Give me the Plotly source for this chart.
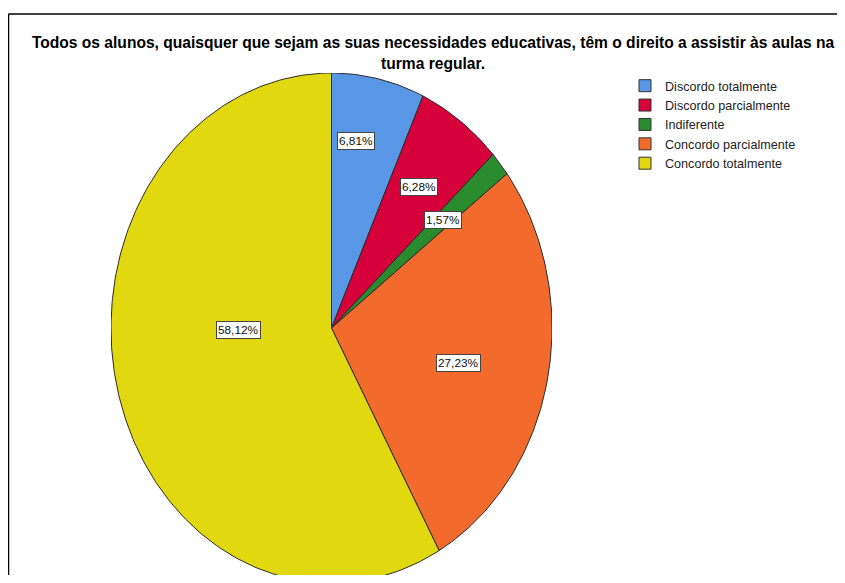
import numpy as np
import plotly.graph_objects as go

categorias = ["Discordo totalmente", "Discordo parcialmente", "Indiferente",
              "Concordo parcialmente", "Concordo totalmente"]
percentagens = [6.81, 6.28, 1.57, 27.23, 58.12]
rotulos = ["6,81%", "6,28%", "1,57%", "27,23%", "58,12%"]

cores = ["#5896E6", "#D6003A", "#2A8A2E", "#F26A2C", "#E1D80F"]
titulo = ("Todos os alunos, quaisquer que sejam as suas necessidades educativas, "
          "têm o direito a assistir às aulas na<br>turma regular.")

# posição dos rótulos (raio relativo e desvio angular em graus), estilo SPSS
raio_rotulo = [0.74, 0.68, 0.66, 0.59, 0.42]
desvio_rotulo = [-3.8, 0.0, 0.0, 1.7, 13.4]

fig = go.Figure()

total = sum(percentagens)
inicio = 0.0
for i, (cat, val) in enumerate(zip(categorias, percentagens)):
    a0 = inicio / total * 2 * np.pi
    a1 = (inicio + val) / total * 2 * np.pi
    t = np.linspace(a0, a1, max(int(val * 4), 8))
    xs = np.concatenate([[0], np.sin(t), [0]])
    ys = np.concatenate([[0], np.cos(t), [0]])
    fig.add_trace(go.Scatter(
        x=xs, y=ys, mode="lines", fill="toself",
        fillcolor=cores[i], line=dict(color="#2b2b2b", width=1),
        showlegend=False, legendgroup=cat, hoverinfo="skip",
    ))
    # rótulo no meio da fatia
    meio = (a0 + a1) / 2 + np.radians(desvio_rotulo[i])
    fig.add_annotation(
        x=raio_rotulo[i] * np.sin(meio), y=raio_rotulo[i] * np.cos(meio),
        text=rotulos[i], showarrow=False,
        font=dict(family="Liberation Sans", size=11.8, color="#111111"),
        bgcolor="white", bordercolor="#444444", borderwidth=1, borderpad=1,
    )
    inicio += val

# entradas da legenda (quadrados)
for i, cat in enumerate(categorias):
    fig.add_trace(go.Scatter(
        x=[None], y=[None], mode="markers", name=cat, legendgroup=cat,
        marker=dict(symbol="square", size=12, color=cores[i],
                    line=dict(color="#333333", width=1)),
    ))

# moldura do gráfico (só topo e lado esquerdo ficam visíveis)
fig.add_shape(type="line", xref="paper", yref="paper",
              x0=-0.2324, x1=1.8, y0=1.1175, y1=1.1175,
              line=dict(color="black", width=1.5), layer="below")
fig.add_shape(type="line", xref="paper", yref="paper",
              x0=-0.2324, x1=-0.2324, y0=-0.1, y1=1.1175,
              line=dict(color="black", width=1.5), layer="below")

fig.update_layout(
    width=829, height=567,
    margin=dict(l=103, r=285, t=65, b=0),
    plot_bgcolor="white", paper_bgcolor="white",
    title=dict(text=titulo, x=0.5127, xanchor="center", y=0.929, yanchor="top",
               font=dict(family="Liberation Sans", size=15.6, color="black",
                         weight="bold")),
    xaxis=dict(range=[-1, 1], visible=False, fixedrange=True),
    # a parte de baixo da elipse fica cortada, como no original
    yaxis=dict(range=[-0.9686, 1], visible=False, fixedrange=True),
    legend=dict(x=1.1655, y=1.004, xanchor="left", yanchor="top",
                font=dict(family="Liberation Sans", size=12.6, color="#222222"),
                bgcolor="rgba(0,0,0,0)", tracegroupgap=0, itemwidth=30),
    showlegend=True,
)

fig.write_html("out.html")
